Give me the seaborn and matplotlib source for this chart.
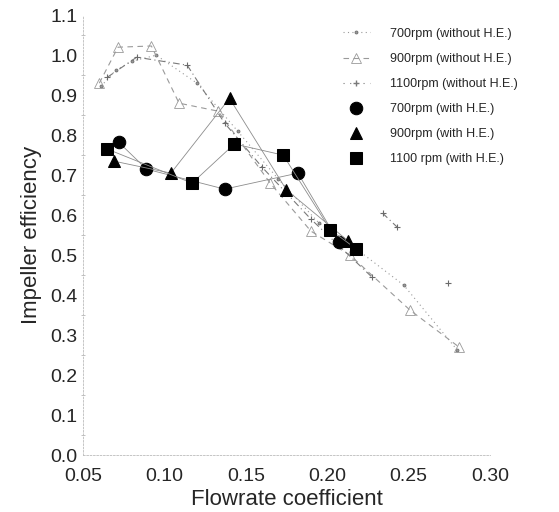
import numpy as np
import pandas as pd
import matplotlib
matplotlib.use("Agg")
import matplotlib.pyplot as plt
import seaborn as sns
from matplotlib.ticker import MultipleLocator, FormatStrFormatter

# ---- data ----
# without heat exchanger
x_700_wo = [0.061, 0.070, 0.080, 0.095, 0.120, 0.145, 0.170, 0.195, 0.219, 0.247, 0.280]
y_700_wo = [0.922, 0.962, 0.985, 1.000, 0.930, 0.810, 0.690, 0.580, 0.512, 0.425, 0.262]

x_900_wo = [0.060, 0.0715, 0.092, 0.109, 0.133, 0.165, 0.190, 0.214, 0.251, 0.281]
y_900_wo = [0.930, 1.020, 1.023, 0.880, 0.860, 0.680, 0.560, 0.500, 0.362, 0.270]

x_1100_wo = [0.065, 0.083, 0.114, 0.137, 0.160, 0.190, 0.2275, 0.234, 0.243, 0.274]
y_1100_wo = [0.945, 0.995, 0.975, 0.830, 0.720, 0.590, 0.445, 0.605, 0.570, 0.430]
seg_1100_wo = [0, 0, 0, 0, 0, 0, 0, 1, 1, 2]

# with heat exchanger
x_700_he = [0.072, 0.089, 0.137, 0.182, 0.207]
y_700_he = [0.782, 0.715, 0.665, 0.705, 0.533]
x_900_he = [0.069, 0.104, 0.140, 0.175, 0.213]
y_900_he = [0.735, 0.705, 0.892, 0.663, 0.535]
x_1100_he = [0.065, 0.117, 0.143, 0.173, 0.202, 0.218]
y_1100_he = [0.765, 0.680, 0.778, 0.750, 0.563, 0.515]

labels = ["700rpm (without H.E.)", "900rpm (without H.E.)", "1100rpm (without H.E.)",
          "700rpm (with H.E.)", "900rpm (with H.E.)", "1100 rpm (with H.E.)"]

xticks = [0.05, 0.10, 0.15, 0.20, 0.25, 0.30]
yticks = [0.0, 0.1, 0.2, 0.3, 0.4, 0.5, 0.6, 0.7, 0.8, 0.9, 1.0, 1.1]

sns.set_theme(style="white")
plt.rcParams['font.family'] = ['Liberation Sans', 'DejaVu Sans']

fig = plt.figure(figsize=(5.59, 5.12), dpi=100)
ax = fig.add_axes([0.1485, 0.1113, 0.728, 0.859])

faint = "#9a9a9a"

df700 = pd.DataFrame({"x": x_700_wo, "y": y_700_wo})
df900 = pd.DataFrame({"x": x_900_wo, "y": y_900_wo})
df1100 = pd.DataFrame({"x": x_1100_wo, "y": y_1100_wo, "seg": seg_1100_wo})

sns.lineplot(data=df700, x="x", y="y", ax=ax, sort=False, estimator=None,
             color=faint, lw=0.8, linestyle=(0, (1, 3)), marker=".", markersize=4,
             markeredgecolor="#777777", label=labels[0])
sns.lineplot(data=df900, x="x", y="y", ax=ax, sort=False, estimator=None,
             color=faint, lw=0.8, linestyle=(0, (5, 4)), marker="^", markersize=7,
             markerfacecolor="none", markeredgecolor=faint, markeredgewidth=0.6,
             label=labels[1])
sns.lineplot(data=df1100, x="x", y="y", units="seg", ax=ax, sort=False, estimator=None,
             color="#7a7a7a", lw=0.8, linestyle=(0, (6, 3, 1, 3)), marker="+", markersize=5,
             markeredgecolor="#6a6a6a", markeredgewidth=0.8)
ax.plot([], [], color="#7a7a7a", lw=0.8, linestyle=(0, (1, 5)), marker="+", markersize=5,
        label=labels[2])

he_sets = [(x_700_he, y_700_he, "o", 9, labels[3]),
           (x_900_he, y_900_he, "^", 9, labels[4]),
           (x_1100_he, y_1100_he, "s", 8.5, labels[5])]
for xs, ys, mk, ms, lab in he_sets:
    d = pd.DataFrame({"x": xs, "y": ys})
    sns.lineplot(data=d, x="x", y="y", ax=ax, estimator=None, color="#8c8c8c", lw=0.6,
                 marker=mk, markersize=ms, markeredgecolor="black",
                 markerfacecolor="black", label=lab)

ax.set_xlim(0.05, 0.30)
ax.set_ylim(0.0, 1.1)
ax.set_xticks(xticks)
ax.set_yticks(yticks)
ax.xaxis.set_major_formatter(FormatStrFormatter("%.2f"))
ax.yaxis.set_major_formatter(FormatStrFormatter("%.1f"))
ax.yaxis.set_minor_locator(MultipleLocator(0.05))
ax.tick_params(axis="both", which="major", labelsize=14, direction="inout", length=4,
               width=0.6, color="#999999", pad=2)
ax.tick_params(axis="y", which="minor", direction="inout", length=3, width=0.5,
               color="#aaaaaa", left=True)
ax.tick_params(axis="x", which="major", pad=7)

for s in ["top", "right"]:
    ax.spines[s].set_visible(False)
for s in ["left", "bottom"]:
    ax.spines[s].set_color("#bbbbbb")
    ax.spines[s].set_linewidth(0.6)
    ax.spines[s].set_linestyle((0, (2, 2)))

ax.set_xlabel("Flowrate coefficient", fontsize=16, labelpad=3)
ax.set_ylabel("Impeller efficiency", fontsize=16, labelpad=6)

leg = ax.legend(loc="upper left", bbox_to_anchor=(0.61, 0.997), frameon=False,
                fontsize=9, handlelength=2.2, handletextpad=1.6, labelspacing=1.05,
                markerscale=1.0)
for line in leg.get_lines()[3:]:
    line.set_linestyle("none")

fig.savefig("out.png", dpi=100)
